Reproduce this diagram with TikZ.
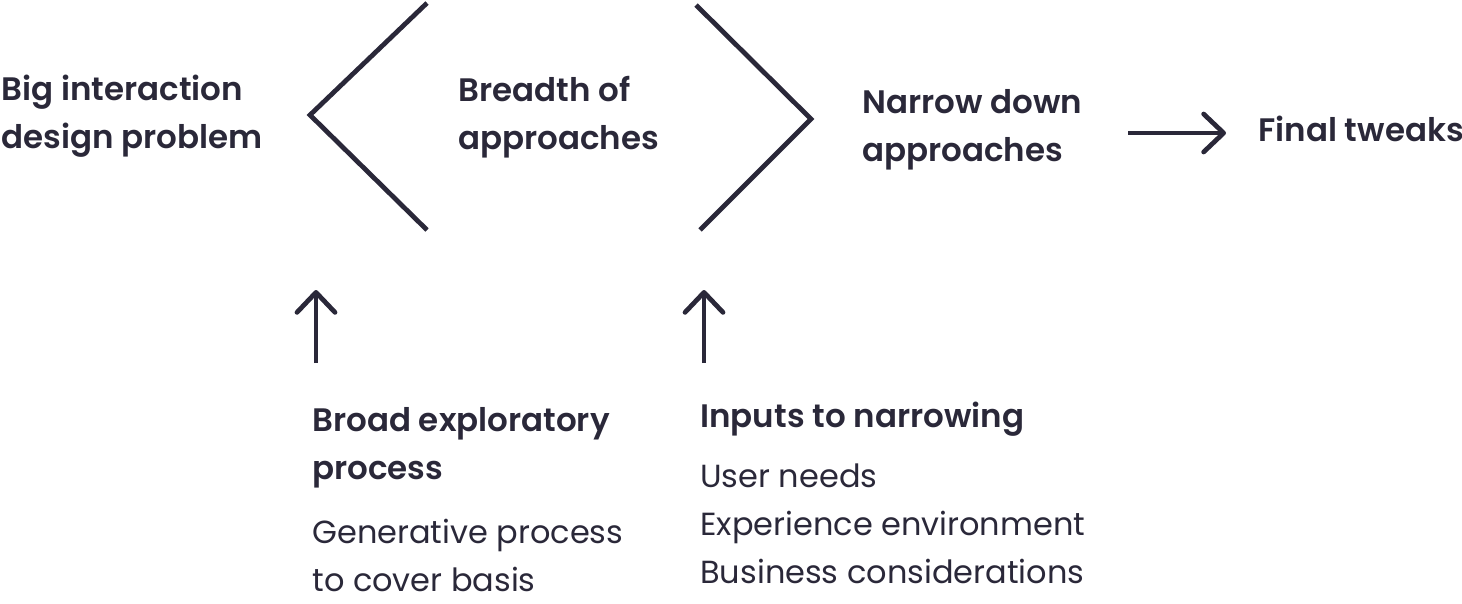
\documentclass[tikz,border=0pt]{standalone}
\usepackage{fontspec}
\setmainfont{Poppins}[BoldFont={Poppins SemiBold}]
\usetikzlibrary{arrows.meta}
\definecolor{ink}{RGB}{42,40,57}

\begin{document}
\begin{tikzpicture}[x=0.02cm, y=-0.02cm, line width=0.095cm, draw=ink, text=ink,
        font=\fontsize{18pt}{27.2pt}\selectfont,
        barb/.tip={Straight Barb[length=0.4cm, width=0.76cm, line cap=round, line join=round]}]
        \useasboundingbox (0,0) rectangle (1462,603);
        \begin{scope}[every node/.style={anchor=base west, inner sep=0pt, align=left, font=\fontsize{18.5pt}{27.2pt}\selectfont\bfseries}]
            \node (big) at (-1, 148) {Big interaction\\design problem};
            \node (breadth) at (456, 149) {Breadth of\\approaches};
            \node (narrow) at (860, 161) {Narrow down\\approaches};
            \node (final) at (1256, 141) {Final tweaks};
            \node (broad) at (310, 479) {Broad exploratory\\process};
            \node (inputs) at (698, 427) {Inputs to narrowing};
        \end{scope}
        \begin{scope}[every node/.style={anchor=base west, inner sep=0pt, align=left, font=\fontsize{18.2pt}{27.2pt}\selectfont}]
            \node (gen) at (310, 591) {Generative process\\to cover basis};
            \node (needs) at (698, 583) {User needs\\Experience environment\\Business considerations};
        \end{scope}
        \draw [line cap=butt, line join=miter] (427, 3) -- (310, 115) -- (427, 230);
        \draw [line cap=butt, line join=miter] (696, 5) -- (811, 119) -- (700, 230);
        \coordinate (a0) at (1128, 133);
        \coordinate (a1) at (1226, 133);
        \coordinate (b0) at (316, 363);
        \coordinate (b1) at (316, 290);
        \coordinate (c0) at (704, 363);
        \coordinate (c1) at (704, 290);
        \path [-barb] (a0) edge[draw=ink] node {} (a1);
        \path [-barb] (b0) edge[draw=ink] node {} (b1);
        \path [-barb] (c0) edge[draw=ink] node {} (c1);
    \end{tikzpicture}
\end{document}
